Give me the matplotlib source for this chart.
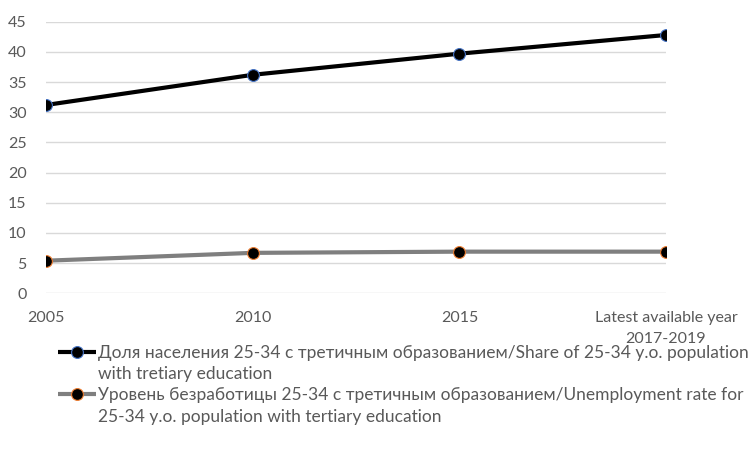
import matplotlib
matplotlib.use("Agg")
import matplotlib.pyplot as plt
from matplotlib.lines import Line2D

# categories and values
categories = ["2005", "2010", "2015", "Latest available year\n2017-2019"]
share_tertiary = [31.2, 36.2, 39.7, 42.8]
unemployment_tertiary = [5.4, 6.7, 6.9, 6.9]
legend_rows = [
    "Доля населения 25-34 с третичным образованием/Share of 25-34 y.o. population",
    "with tretiary education",
    "Уровень безработицы 25-34 с третичным образованием/Unemployment rate for",
    "25-34 y.o. population with tertiary education",
]
y_ticks = list(range(0, 50, 5))

plt.rcParams['font.family'] = ['Lato', 'DejaVu Sans']
text_color = "#595959"

fig = plt.figure(figsize=(7.52, 4.54), dpi=100)
ax = fig.add_axes([46/752, 1 - 293.3/454, 620/752, (293.3 - 21.7)/454])

x = list(range(len(categories)))
l1, = ax.plot(x, share_tertiary, color="black", lw=3, marker="o", ms=8.5,
              mfc="black", mec="#4472C4", mew=0.8, solid_capstyle="butt", zorder=3)
l2, = ax.plot(x, unemployment_tertiary, color="#7f7f7f", lw=3, marker="o", ms=8.5,
              mfc="black", mec="#ED7D31", mew=0.8, solid_capstyle="butt", zorder=3)

ax.set_xlim(0, len(categories) - 1)
ax.set_ylim(0, 45)
ax.set_yticks(y_ticks)
ax.set_xticks(x)
ax.set_xticklabels(categories)
for lab in ax.get_xticklabels():
    lab.set_linespacing(1.6)
ax.yaxis.grid(True, color="#d9d9d9", lw=1)
ax.set_axisbelow(True)
for s in ax.spines.values():
    s.set_visible(False)
ax.tick_params(axis="both", length=0, labelsize=11.5, colors=text_color)
ax.tick_params(axis="y", pad=14)
ax.tick_params(axis="x", pad=13)

blank = Line2D([], [], alpha=0)
handles = [l1, blank, l2, blank]
leg = fig.legend(handles, legend_rows, loc="upper left",
                 bbox_to_anchor=(58/752, 1 - 345/454), frameon=False,
                 fontsize=12.5, handlelength=2.2, handletextpad=0.1,
                 labelspacing=0.3, borderaxespad=0, borderpad=0)
for t in leg.get_texts():
    t.set_color(text_color)

fig.savefig("out.png", dpi=100)
